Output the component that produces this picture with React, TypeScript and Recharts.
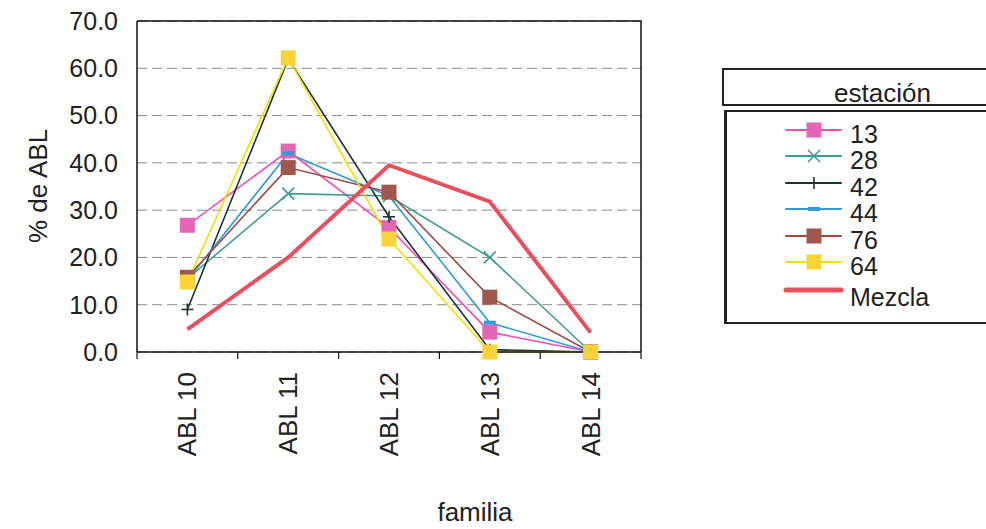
import { LineChart, Line, XAxis, YAxis, CartesianGrid } from 'recharts'

const categories = ['ABL 10', 'ABL 11', 'ABL 12', 'ABL 13', 'ABL 14']
const s13 = [26.8, 42.5, 26.3, 4.2, 0]
const s28 = [15.5, 33.5, 33.0, 20.0, 0]
const s42 = [9.0, 62.0, 28.6, 0.5, 0]
const s44 = [15.2, 42.0, 33.0, 6.2, 0]
const s76 = [15.8, 39.0, 33.8, 11.6, 0]
const s64 = [14.8, 62.2, 23.9, 0, 0]
const mezcla = [4.8, 20.0, 39.5, 31.8, 4.1]
const yTicks = [0, 10, 20, 30, 40, 50, 60, 70]

const FONT = '"Liberation Sans", Arial, sans-serif'
const W = 986
const H = 529
const MARGIN = { top: 21, right: 345, bottom: 0, left: 0 }
const Y_AXIS_W = 137
const X_AXIS_H = 177
const PLOT_W = W - MARGIN.right - MARGIN.left - Y_AXIS_W
const PLOT_H = H - MARGIN.top - MARGIN.bottom - X_AXIS_H
const HALF_BAND = PLOT_W / categories.length / 2

type Shape = 'square' | 'x' | 'plus' | 'dash' | 'none'

const series: { key: string; name: string; values: number[]; stroke: string; fill: string; width: number; shape: Shape }[] = [
  { key: 's13', name: '13', values: s13, stroke: '#f04fb4', fill: '#e466b6', width: 1.6, shape: 'square' },
  { key: 's28', name: '28', values: s28, stroke: '#3f9a98', fill: '#3f9a98', width: 1.6, shape: 'x' },
  { key: 's42', name: '42', values: s42, stroke: '#1c3434', fill: '#1c3434', width: 1.6, shape: 'plus' },
  { key: 's44', name: '44', values: s44, stroke: '#2f9bd8', fill: '#2f9bd8', width: 1.6, shape: 'dash' },
  { key: 's76', name: '76', values: s76, stroke: '#9b4a42', fill: '#a0574c', width: 1.6, shape: 'square' },
  { key: 's64', name: '64', values: s64, stroke: '#f4e000', fill: '#f8d43a', width: 1.6, shape: 'square' },
  { key: 'mezcla', name: 'Mezcla', values: mezcla, stroke: '#e9505e', fill: '#e9505e', width: 4, shape: 'none' },
]

const data = categories.map((cat, i) => {
  const row: Record<string, string | number> = { cat }
  for (const s of series) row[s.key] = s.values[i]
  return row
})

function Marker({ cx, cy, shape, color }: { cx: number; cy: number; shape: Shape; color: string }) {
  if (shape === 'square') return <rect x={cx - 7.5} y={cy - 7.5} width={15} height={15} fill={color} />
  if (shape === 'x')
    return (
      <g stroke={color} strokeWidth={1.6}>
        <line x1={cx - 6} y1={cy - 6} x2={cx + 6} y2={cy + 6} />
        <line x1={cx - 6} y1={cy + 6} x2={cx + 6} y2={cy - 6} />
      </g>
    )
  if (shape === 'plus')
    return (
      <g stroke={color} strokeWidth={1.6}>
        <line x1={cx - 6} y1={cy} x2={cx + 6} y2={cy} />
        <line x1={cx} y1={cy - 6} x2={cx} y2={cy + 6} />
      </g>
    )
  if (shape === 'dash') return <rect x={cx - 6} y={cy - 2} width={12} height={4} fill={color} />
  return null
}

function XTick(props: any) {
  const { x, y, payload, index } = props
  return (
    <g>
      {index === 0 && <line x1={x - HALF_BAND} x2={x - HALF_BAND} y1={y} y2={y + 7} stroke="#111" strokeWidth={1.2} />}
      <line x1={x + HALF_BAND} x2={x + HALF_BAND} y1={y} y2={y + 7} stroke="#111" strokeWidth={1.2} />
      <text
        transform={`translate(${x},${y + 20}) rotate(-90)`}
        textAnchor="end"
        dominantBaseline="central"
        fontSize={26}
        fill="#222"
        fontFamily={FONT}
      >
        {payload.value}
      </text>
    </g>
  )
}

function LegendBox() {
  return (
    <div style={{ position: 'absolute', left: 722, top: 68, width: 270, height: 260, fontFamily: FONT, color: '#222' }}>
      <div
        style={{
          position: 'absolute', left: 0, top: 0, width: 270, height: 38,
          border: '2px solid #222', borderRight: 'none', boxSizing: 'border-box',
          fontSize: 26, lineHeight: '26px',
        }}
      >
        <span style={{ position: 'absolute', left: 110, top: 10 }}>estación</span>
      </div>
      <div
        style={{
          position: 'absolute', left: 2, top: 42, width: 268, height: 214,
          border: '2px solid #222', borderLeftWidth: 3, borderRight: 'none', boxSizing: 'border-box',
          paddingTop: 9,
        }}
      >
        {series.map((s, i) => (
          <div key={s.key} style={{ display: 'flex', alignItems: 'center', height: 26.5, marginTop: i === series.length - 1 ? 4 : 0 }}>
            <svg width={62} height={26} style={{ marginLeft: 56, marginTop: s.shape === 'none' ? -14 : -9 }}>
              <line x1={3} x2={58} y1={13} y2={13} stroke={s.stroke} strokeWidth={s.shape === 'none' ? 5 : 2} strokeLinecap="round" />
              <Marker cx={31} cy={13} shape={s.shape} color={s.fill} />
            </svg>
            <span style={{ fontSize: 25, lineHeight: '25px', marginLeft: 5 }}>{s.name}</span>
          </div>
        ))}
      </div>
    </div>
  )
}

export default function App() {
  return (
    <div style={{ position: 'absolute', left: 0, top: 0, width: W, height: H, background: '#fff', overflow: 'hidden' }}>
      <LineChart width={W} height={H} data={data} margin={MARGIN}>
        <CartesianGrid vertical={false} stroke="#8a8a8a" strokeDasharray="10 5" />
        <XAxis
          dataKey="cat"
          height={X_AXIS_H}
          padding={{ left: HALF_BAND, right: HALF_BAND }}
          axisLine={{ stroke: '#111', strokeWidth: 1.5 }}
          tickLine={false}
          tickSize={0}
          tickMargin={0}
          tick={<XTick />}
          interval={0}
          label={() => (
            <text x={475} y={512} textAnchor="middle" dominantBaseline="central" fontSize={26} fill="#222" fontFamily={FONT}>
              familia
            </text>
          )}
        />
        <YAxis
          width={Y_AXIS_W}
          domain={[0, 70]}
          ticks={yTicks}
          tickFormatter={(v: number) => v.toFixed(1)}
          tick={{ fontSize: 25, fill: '#222', fontFamily: FONT }}
          tickLine={false}
          tickSize={0}
          tickMargin={19}
          axisLine={{ stroke: '#111', strokeWidth: 1.5 }}
          label={() => (
            <text transform="translate(38,186) rotate(-90)" textAnchor="middle" dominantBaseline="central" fontSize={26} fill="#222" fontFamily={FONT}>
              % de ABL
            </text>
          )}
        />
        {series.map((s) => (
          <Line
            key={s.key}
            dataKey={s.key}
            name={s.name}
            stroke={s.stroke}
            strokeWidth={s.width}
            isAnimationActive={false}
            dot={s.shape === 'none' ? false : (p: any) => <Marker key={`${s.key}-${p.index}`} cx={p.cx} cy={p.cy} shape={s.shape} color={s.fill} />}
            activeDot={false}
          />
        ))}
      </LineChart>
      {/* plot frame: top and right edges */}
      <svg width={W} height={H} style={{ position: 'absolute', left: 0, top: 0, pointerEvents: 'none' }}>
        <polyline
          points={`${Y_AXIS_W},${MARGIN.top} ${Y_AXIS_W + PLOT_W},${MARGIN.top} ${Y_AXIS_W + PLOT_W},${MARGIN.top + PLOT_H}`}
          fill="none"
          stroke="#111"
          strokeWidth={1.5}
        />
      </svg>
      <LegendBox />
    </div>
  )
}
